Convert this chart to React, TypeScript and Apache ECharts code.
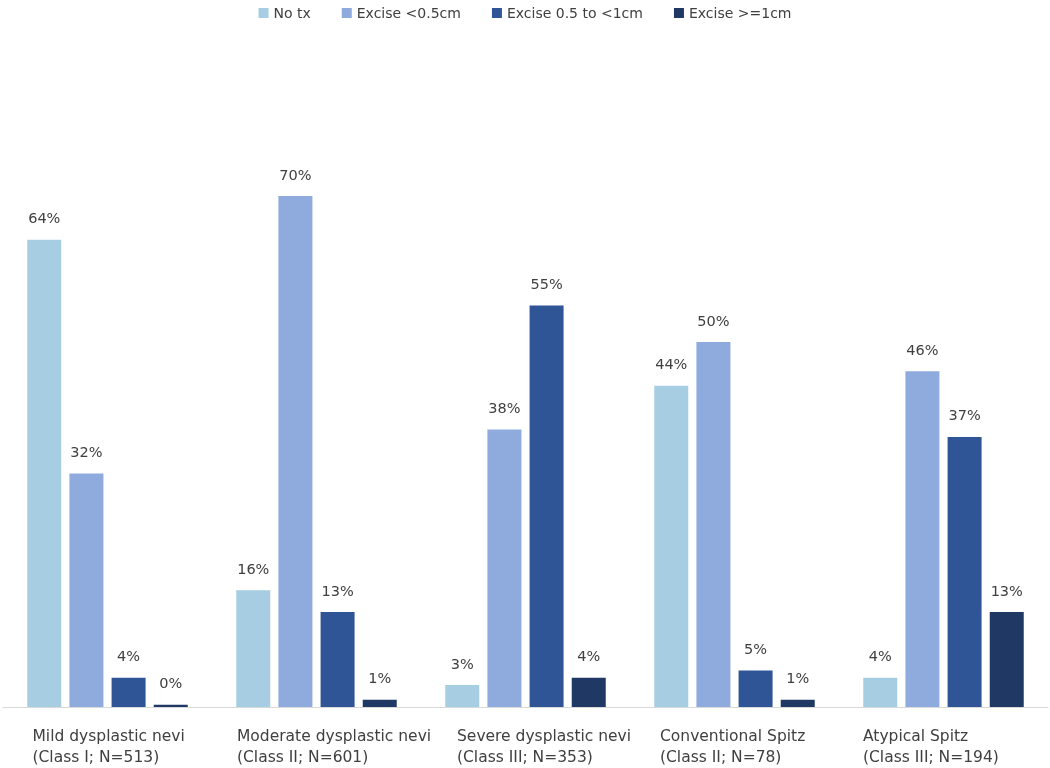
import React, { useEffect, useRef } from "react";
import * as echarts from "echarts";

const categories = [
  "Mild dysplastic nevi\n(Class I; N=513)",
  "Moderate dysplastic nevi\n(Class II; N=601)",
  "Severe dysplastic nevi\n(Class III; N=353)",
  "Conventional Spitz\n(Class II; N=78)",
  "Atypical Spitz\n(Class III; N=194)",
];
const seriesNames = ["No tx", "Excise <0.5cm", "Excise 0.5 to <1cm", "Excise >=1cm"];
const noTx = [64, 16, 3, 44, 4];
const exciseLt05 = [32, 70, 38, 50, 46];
const excise05to1 = [4, 13, 55, 5, 37];
const exciseGe1 = [0.3, 1, 4, 1, 13];
const colors = ["#A6CDE1", "#8FAADC", "#2F5597", "#1F3864"];
const labelWidths = [150, 159, 137, 149, 161];

export default function App() {
  const ref = useRef<HTMLDivElement>(null);
  useEffect(() => {
    const chart = echarts.init(ref.current!, null, { renderer: "svg" });
    const font = "'DejaVu Sans', Verdana, sans-serif";
    const rich: any = {};
    labelWidths.forEach((w, i) => {
      rich["c" + i] = { width: w, align: "left", fontSize: 15.5, lineHeight: 21, color: "#404040", fontFamily: font };
    });
    const data = [noTx, exciseLt05, excise05to1, exciseGe1];
    chart.setOption({
      animation: false,
      textStyle: { fontFamily: font },
      legend: {
        top: 1,
        left: "center",
        itemWidth: 10,
        itemHeight: 10,
        itemGap: 31,
        icon: "rect",
        textStyle: { fontSize: 14, color: "#404040", fontFamily: font },
        data: seriesNames,
      },
      grid: { left: 3, right: 2, top: 123, bottom: 61, containLabel: false },
      xAxis: {
        type: "category",
        data: categories,
        axisTick: { show: false },
        axisLine: { lineStyle: { color: "#D9D9D9", width: 1 } },
        axisLabel: {
          interval: 0,
          margin: 18,
          align: "center",
          formatter: (v: string, i: number) =>
            v
              .split("\n")
              .map((l) => `{c${i}|${l}}`)
              .join("\n"),
          rich,
        },
      },
      yAxis: { type: "value", min: 0, max: 80, show: false, splitLine: { show: false } },
      series: seriesNames.map((name, k) => ({
        name,
        type: "bar",
        data: data[k],
        barWidth: 34,
        barGap: "24%",
        itemStyle: { color: colors[k] },
        label: {
          show: true,
          position: "top",
          distance: 14,
          fontSize: 14.5,
          color: "#404040",
          fontFamily: font,
          formatter: (p: any) => Math.round(p.value) + "%",
        },
      })),
    });
    return () => chart.dispose();
  }, []);
  return <div ref={ref} style={{ position: "fixed", left: 0, top: 0, width: 1050, height: 768 }} />;
}
